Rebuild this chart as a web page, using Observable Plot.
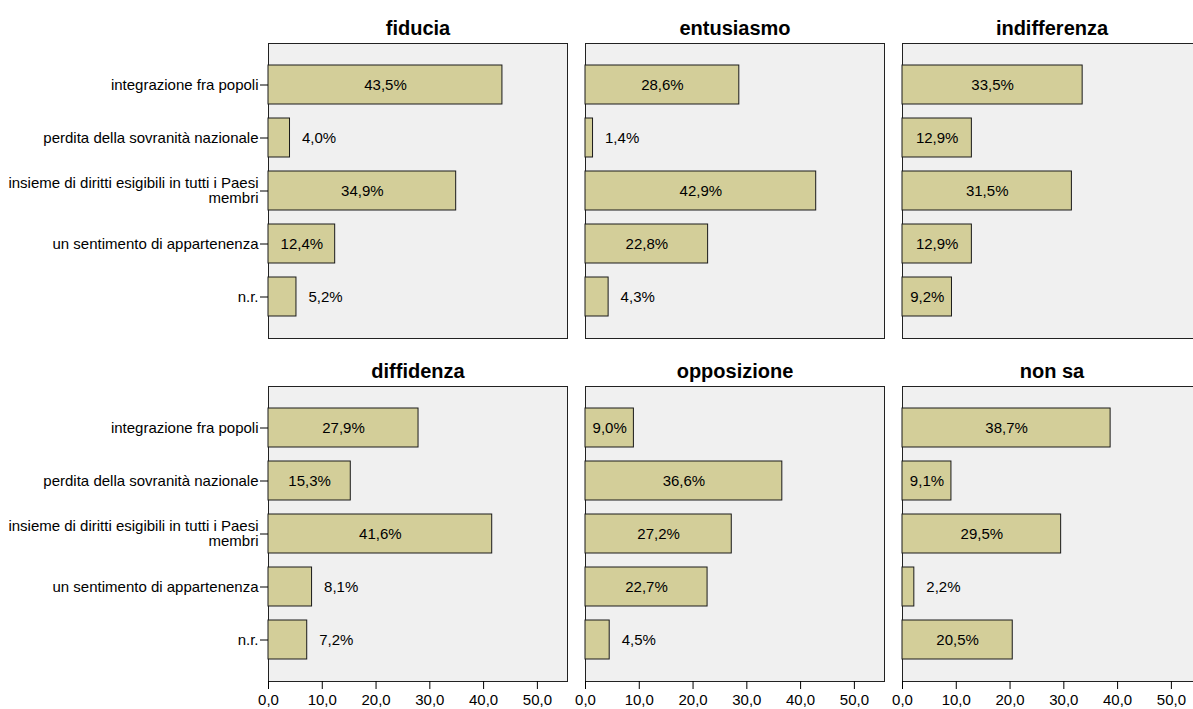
<!DOCTYPE html>
<html>
<head>
<meta charset="utf-8">
<script src="https://cdn.jsdelivr.net/npm/d3@7"></script>
<script src="https://cdn.jsdelivr.net/npm/@observablehq/plot@0.6"></script>
<style>
  html, body { margin: 0; padding: 0; background: #fff; overflow: hidden; }
  #chart svg { display: block; max-width: none !important; }
</style>
</head>
<body>
<div id="chart"></div>
<script>
const categories = [
  "integrazione fra popoli",
  "perdita della sovranità nazionale",
  "insieme di diritti esigibili in tutti i Paesi membri",
  "un sentimento di appartenenza",
  "n.r."
];
const panels = ["fiducia", "entusiasmo", "indifferenza", "diffidenza", "opposizione", "non sa"];
const fiducia      = [43.5, 4.0, 34.9, 12.4, 5.2];
const entusiasmo   = [28.6, 1.4, 42.9, 22.8, 4.3];
const indifferenza = [33.5, 12.9, 31.5, 12.9, 9.2];
const diffidenza   = [27.9, 15.3, 41.6, 8.1, 7.2];
const opposizione  = [9.0, 36.6, 27.2, 22.7, 4.5];
const nonSa        = [38.7, 9.1, 29.5, 2.2, 20.5];
const xTicks = [0, 10, 20, 30, 40, 50];

const seriesList = [fiducia, entusiasmo, indifferenza, diffidenza, opposizione, nonSa];
const rows = [];
seriesList.forEach((vals, p) => {
  vals.forEach((v, i) => rows.push({panel: panels[p], col: p % 3, row: Math.floor(p / 3), cat: categories[i], v}));
});
const titles = panels.map((name, p) => ({name, col: p % 3, row: Math.floor(p / 3)}));
const fmt = v => v.toFixed(1).replace(".", ",") + "%";
const catLabel = c => c === categories[2] ? "insieme di diritti esigibili in tutti i Paesi\nmembri" : c;

const chart = Plot.plot({
  width: 1210,
  height: 709,
  marginLeft: 267,
  marginRight: 7,
  marginTop: 43,
  marginBottom: 27,
  style: {fontFamily: "'Liberation Sans', Arial, sans-serif", fontSize: "15px", color: "#000", background: "#fff"},
  fx: {domain: [0, 1, 2], paddingInner: 0.0566, paddingOuter: 0, axis: null},
  fy: {domain: [0, 1], paddingInner: 0.139, paddingOuter: 0, axis: null},
  x: {domain: [0, 55.6]},
  y: {domain: categories, paddingInner: 0.255, paddingOuter: 0.37},
  marks: [
    Plot.frame({fill: "#f0f0f0", stroke: "#222", strokeWidth: 1}),
    Plot.barX(rows, {x: "v", y: "cat", fx: "col", fy: "row", fill: "#d3ce99", stroke: "#1a1a1a", strokeWidth: 1}),
    Plot.text(rows.filter(d => d.v >= 9), {x: d => d.v / 2, y: "cat", fx: "col", fy: "row", text: d => fmt(d.v), fontSize: 15, fill: "#000"}),
    Plot.text(rows.filter(d => d.v < 9), {x: "v", y: "cat", fx: "col", fy: "row", text: d => fmt(d.v), textAnchor: "start", dx: 12, fontSize: 15, fill: "#000"}),
    Plot.text(titles, {fx: "col", fy: "row", text: "name", frameAnchor: "top", lineAnchor: "middle", dy: -15, fontWeight: "bold", fontSize: 20, fill: "#000"}),
    Plot.axisX({ticks: xTicks, tickFormat: d => d.toFixed(1).replace(".", ","), tickSize: 8, tickPadding: 5, label: null, facetAnchor: "bottom"}),
    Plot.axisY({tickSize: 8, tickPadding: 2, label: null, tickFormat: catLabel, facetAnchor: "left", lineHeight: 1})
  ]
});
chart.style.maxWidth = "none";
document.getElementById("chart").appendChild(chart);
</script>
</body>
</html>
